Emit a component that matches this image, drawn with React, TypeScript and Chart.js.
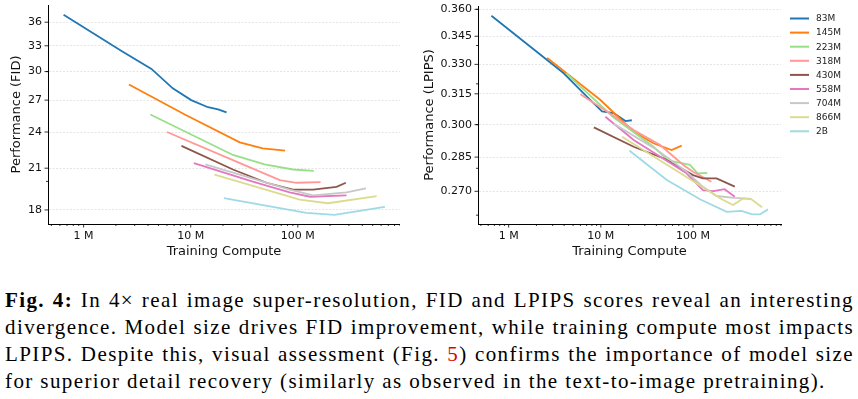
import React, { useEffect, useRef } from "react";
import { Chart, registerables } from "chart.js";
Chart.register(...registerables);

// ---------- data (compute in millions) ----------
const seriesLabels = ["83M", "145M", "223M", "318M", "430M", "558M", "704M", "866M", "2B"];
const seriesColors = ["#1f77b4", "#ff7f0e", "#98df8a", "#ff9896", "#8c564b", "#e377c2", "#c7c7c7", "#dbdb8d", "#9edae5"];

const fid83M = [[0.65, 37.0], [2.3, 32.3], [4.3, 30.3], [6.8, 28.2], [10.1, 27.0], [14.5, 26.3], [18, 26.1], [21.6, 25.8]];
const fid145M = [[2.65, 28.6], [8.8, 25.6], [28.7, 23.1], [47, 22.6], [76, 22.4]];
const fid223M = [[4.2, 25.6], [24.8, 22.05], [49, 21.3], [90, 20.9], [141, 20.8]];
const fid318M = [[6.0, 24.0], [30.7, 21.3], [68, 20.1], [97, 19.9], [163, 19.95]];
const fid430M = [[8.2, 22.8], [24.8, 20.9], [51, 19.9], [90, 19.4], [139, 19.4], [230, 19.6], [281, 19.9]];
const fid558M = [[10.7, 21.4], [38, 19.98], [84, 19.2], [130, 18.9], [285, 19.0]];
const fid704M = [[13.7, 21.3], [84, 19.4], [139, 19.0], [285, 19.2], [433, 19.5]];
const fid866M = [[16.7, 20.5], [104, 18.7], [191, 18.45], [545, 18.95]];
const fid2B = [[20.4, 18.8], [120, 17.8], [220, 17.67], [650, 18.2]];

const lp83M = [[0.65, 0.3564], [3.96, 0.3254], [7.1, 0.3135], [10.3, 0.3063], [13.8, 0.3055], [18.5, 0.3017], [21.7, 0.3021]];
const lp145M = [[2.62, 0.3334], [9.9, 0.3119], [22.7, 0.2967], [37.2, 0.2913], [58.6, 0.2882], [75.3, 0.2902]];
const lp223M = [[4.2, 0.3255], [13.5, 0.3038], [37.2, 0.2897], [54, 0.2835], [92.6, 0.2815], [113, 0.2777], [143, 0.278]];
const lp318M = [[6.0, 0.3148], [12, 0.306], [22.7, 0.2975], [44, 0.2905], [78.5, 0.2815], [100, 0.2785], [158, 0.2741]];
const lp430M = [[8.4, 0.2987], [22.7, 0.2897], [47.8, 0.2845], [100, 0.277], [128, 0.2756], [180, 0.2756], [284, 0.272]];
const lp558M = [[11.2, 0.3038], [22.7, 0.2928], [85, 0.2778], [128, 0.2705], [166, 0.2701], [220, 0.2709], [284, 0.2677]];
const lp704M = [[13.7, 0.3005], [40, 0.2885], [85, 0.2785], [123, 0.2725], [180, 0.268], [280, 0.2672], [430, 0.2668]];
const lp866M = [[17, 0.2943], [153, 0.2698], [205, 0.2666], [272, 0.2642], [350, 0.267], [430, 0.2666], [560, 0.2633]];
const lp2B = [[20.5, 0.2879], [52, 0.2749], [118.8, 0.2666], [232, 0.2614], [336, 0.2618], [430, 0.2604], [530, 0.2603], [650, 0.2624]];

const fidSeries = [fid83M, fid145M, fid223M, fid318M, fid430M, fid558M, fid704M, fid866M, fid2B];
const lpSeries = [lp83M, lp145M, lp223M, lp318M, lp430M, lp558M, lp704M, lp866M, lp2B];

const xMajor = [1, 10, 100];
const xMajorLabels = ["1 M", "10 M", "100 M"];
const xMin = 0.465;
const xMax = 900;

const fidTicks = [18, 21, 24, 27, 30, 33, 36];
const fidMinor = [20, 30];
const fidMin = 17.09;
const fidMax = 38.36;

const lpTicks = [0.27, 0.285, 0.3, 0.315, 0.33, 0.345, 0.36];
const lpMinor = [0.26, 0.28, 0.3, 0.32, 0.34, 0.36];
const lpMin = 0.2564;
const lpMax = 0.3619;

// ---------- helpers ----------
const FONT = "'DejaVu Sans', sans-serif";

function xMinorTicks(): number[] {
  const out: number[] = [];
  for (let e = -1; e <= 3; e++) {
    for (let m = 2; m <= 9; m++) {
      const v = m * Math.pow(10, e);
      if (v >= xMin && v <= xMax) out.push(v);
    }
  }
  return out;
}

const tickPlugin = {
  id: "mplTicks",
  afterDraw(chart: any, _args: any, opts: any) {
    const { ctx, chartArea } = chart;
    const xs = chart.scales.x;
    const ys = chart.scales.y;
    ctx.save();
    ctx.strokeStyle = "#000";
    ctx.lineWidth = 0.8;
    const dx = (v: number, len: number) => {
      const p = xs.getPixelForValue(v);
      if (p < chartArea.left - 0.5 || p > chartArea.right + 0.5) return;
      ctx.beginPath();
      ctx.moveTo(p, chartArea.bottom);
      ctx.lineTo(p, chartArea.bottom + len);
      ctx.stroke();
    };
    const dy = (v: number, len: number) => {
      const p = ys.getPixelForValue(v);
      if (p < chartArea.top - 0.5 || p > chartArea.bottom + 0.5) return;
      ctx.beginPath();
      ctx.moveTo(chartArea.left, p);
      ctx.lineTo(chartArea.left - len, p);
      ctx.stroke();
    };
    (opts.xMajor || []).forEach((v: number) => dx(v, 3.5));
    (opts.xMinor || []).forEach((v: number) => dx(v, 2));
    (opts.yMajor || []).forEach((v: number) => dy(v, 3.5));
    (opts.yMinor || []).forEach((v: number) => dy(v, 2));
    ctx.restore();
  },
};

const legendPlugin = {
  id: "mplLegend",
  afterDraw(chart: any, _args: any, opts: any) {
    if (!opts || !opts.show) return;
    const { ctx } = chart;
    ctx.save();
    ctx.font = `9px ${FONT}`;
    ctx.textBaseline = "middle";
    ctx.textAlign = "left";
    chart.data.datasets.forEach((ds: any, i: number) => {
      const y = opts.top + i * opts.step;
      ctx.strokeStyle = ds.borderColor;
      ctx.lineWidth = 2;
      ctx.beginPath();
      ctx.moveTo(opts.x, y);
      ctx.lineTo(opts.x + 19, y);
      ctx.stroke();
      ctx.fillStyle = "#222";
      ctx.fillText(ds.label, opts.x + 26, y + 0.5);
    });
    ctx.restore();
  },
};

function makeConfig(
  series: number[][][],
  yTicks: number[],
  yMinor: number[],
  yMin: number,
  yMax: number,
  yTitle: string,
  yDecimals: number,
  yWidth: number,
  titlePadTop: number,
  padTop: number,
  padRight: number,
  legend: any
): any {
  return {
    type: "line",
    data: {
      datasets: series.map((s, i) => ({
        label: seriesLabels[i],
        data: s.map((p) => ({ x: p[0], y: p[1] })),
        borderColor: seriesColors[i],
        backgroundColor: seriesColors[i],
        borderWidth: 1.8,
        pointRadius: 0,
        tension: 0,
        fill: false,
        order: series.length - i,
      })),
    },
    options: {
      responsive: false,
      animation: false,
      devicePixelRatio: 1,
      layout: { padding: { top: padTop, right: padRight, left: 0, bottom: 0 } },
      plugins: {
        legend: { display: false },
        tooltip: { enabled: false },
        mplTicks: { xMajor, xMinor: xMinorTicks(), yMajor: yTicks, yMinor },
        mplLegend: legend,
      },
      scales: {
        x: {
          type: "logarithmic",
          min: xMin,
          max: xMax,
          afterBuildTicks: (s: any) => {
            s.ticks = xMajor.map((v) => ({ value: v }));
          },
          afterFit: (s: any) => {
            s.height = 46;
            s.paddingLeft = 0;
            s.paddingRight = 0;
          },
          ticks: {
            autoSkip: false,
            maxRotation: 0,
            padding: 6,
            color: "#111",
            font: { family: FONT, size: 11 },
            callback: (v: any) => {
              const idx = xMajor.indexOf(Number(v));
              return idx >= 0 ? xMajorLabels[idx] : "";
            },
          },
          grid: { drawOnChartArea: false, drawTicks: false },
          border: { display: true, color: "#000", width: 1 },
          title: {
            display: true,
            text: "Training Compute",
            color: "#111",
            font: { family: FONT, size: 13 },
            padding: { top: 0, bottom: 10.2 },
          },
        },
        y: {
          type: "logarithmic",
          min: yMin,
          max: yMax,
          afterBuildTicks: (s: any) => {
            s.ticks = yTicks.map((v) => ({ value: v }));
          },
          afterFit: (s: any) => {
            s.width = yWidth;
            s.paddingTop = 0;
            s.paddingBottom = 0;
          },
          ticks: {
            autoSkip: false,
            padding: 6,
            color: "#111",
            font: { family: FONT, size: 11 },
            callback: (v: any) => Number(v).toFixed(yDecimals),
          },
          grid: { color: "#dedede", lineWidth: 0.8, drawTicks: false },
          border: { display: true, color: "#000", width: 1, dash: [2, 1.5] },
          title: {
            display: true,
            text: yTitle,
            color: "#111",
            font: { family: FONT, size: 13 },
            padding: { top: titlePadTop, bottom: 0 },
          },
        },
      },
    },
    plugins: [tickPlugin, legendPlugin],
  };
}

function ChartCanvas(props: { config: any; left: number; width: number; height: number }) {
  const ref = useRef<HTMLCanvasElement | null>(null);
  useEffect(() => {
    if (!ref.current) return;
    const chart = new Chart(ref.current, props.config);
    return () => chart.destroy();
  }, []);
  return (
    <canvas
      ref={ref}
      width={props.width}
      height={props.height}
      style={{ position: "absolute", left: props.left, top: 0, width: props.width, height: props.height }}
    />
  );
}

const leftConfig = makeConfig(fidSeries, fidTicks, fidMinor, fidMin, fidMax, "Performance (FID)", 0, 48, 9.2, 5, 0, { show: false });
const rightConfig = makeConfig(lpSeries, lpTicks, lpMinor, lpMin, lpMax, "Performance (LPIPS)", 3, 78, 22.2, 6, 77, {
  show: true,
  x: 390,
  top: 18.5,
  step: 14.1,
});

export default function App() {
  const lineStyle: React.CSSProperties = {
    whiteSpace: "nowrap",
    textAlign: "justify",
    textAlignLast: "justify" as any,
    letterSpacing: "1.4px",
  };
  return (
    <div style={{ position: "absolute", left: 0, top: 0, width: 858, height: 399, background: "#fff", overflow: "hidden" }}>
      <ChartCanvas config={leftConfig} left={0} width={400} height={270} />
      <ChartCanvas config={rightConfig} left={400} width={458} height={270} />
      <div
        style={{
          position: "absolute",
          left: 5,
          top: 287,
          width: 849,
          fontFamily: "'Liberation Serif', 'Times New Roman', serif",
          fontSize: 21,
          lineHeight: "27px",
          color: "#000",
        }}
      >
        <div style={lineStyle}>
          <b>Fig. 4:</b> In 4× real image super-resolution, FID and LPIPS scores reveal an interesting
        </div>
        <div style={lineStyle}>divergence. Model size drives FID improvement, while training compute most impacts</div>
        <div style={lineStyle}>
          LPIPS. Despite this, visual assessment (Fig. <span style={{ color: "#e00000" }}>5</span>) confirms the importance of model size
        </div>
        <div style={{ whiteSpace: "nowrap", letterSpacing: "1.4px" }}>
          for superior detail recovery (similarly as observed in the text-to-image pretraining).
        </div>
      </div>
    </div>
  );
}
